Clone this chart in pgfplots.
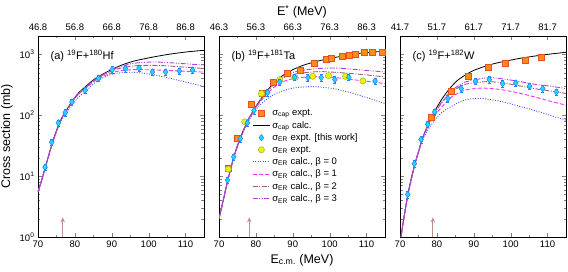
\documentclass[border=0pt]{standalone}
\usepackage{pgfplots}
\pgfplotsset{compat=1.18}
\usepackage{fontspec}
\setmainfont{Liberation Sans}
\usetikzlibrary{arrows.meta}
\definecolor{cOrange}{HTML}{FF8C1A}
\definecolor{cOrangeE}{HTML}{E8501A}
\definecolor{cCyan}{HTML}{22D8FF}
\definecolor{cCyanE}{HTML}{2080FF}
\definecolor{cYel}{HTML}{F0F000}
\definecolor{cYelE}{HTML}{90C020}
\definecolor{cB0}{HTML}{5050FF}
\definecolor{cB1}{HTML}{FF30FF}
\definecolor{cB2}{HTML}{A0607A}
\definecolor{cB3}{HTML}{B040E0}
\definecolor{cArrow}{HTML}{C09090}
\pgfplotsset{
  every axis/.append style={
    width=166pt, height=201pt, scale only axis,
    xmin=70, xmax=115, ymin=1, ymax=2000,
    xtick={70,80,90,100,110}, xticklabels={70,80,90,100,110},
    minor x tick num=1,
    ytick={1,10,100,1000},
    tick align=inside,
    major tick length=4pt, minor tick length=2.5pt,
    tick label style={font=\fontsize{9.5}{11}\selectfont},
    axis line style={line width=0.8pt},
    clip mode=individual,
  },
}
\tikzset{
  mycapexp/.style={mark=square*, mark size=3pt, mark options={fill=cOrange, draw=cOrangeE, line width=0.5pt, solid}},
  mydiam/.style={mark=diamond*, mark size=3.2pt, mark options={fill=cCyan, draw=cCyanE, line width=0.5pt, solid}},
  myerexp/.style={mark=*, mark size=3.1pt, mark options={fill=cYel, draw=cYelE, line width=0.5pt, solid}},
  mycapcalc/.style={black, line width=0.8pt},
  myb0/.style={cB0, line width=0.9pt, dash pattern=on 1pt off 1.5pt},
  myb1/.style={cB1, line width=0.9pt, dash pattern=on 4pt off 2pt},
  myb2/.style={cB2, line width=0.9pt, dash pattern=on 5pt off 1.5pt on 1pt off 1.5pt},
  myb3/.style={cB3, line width=0.9pt, dash pattern=on 5pt off 1.5pt on 1pt off 1.5pt on 1pt off 1.5pt},
  myarr/.style={cArrow, line width=1.1pt, -{Stealth[length=5pt,width=4.5pt]}},
}
\newcommand{\toplabels}[5]{%
  \node[anchor=south, font=\fontsize{9.5}{11}\selectfont, yshift=2pt] at (axis cs:70,2000) {#1};
  \node[anchor=south, font=\fontsize{9.5}{11}\selectfont, yshift=2pt] at (axis cs:80,2000) {#2};
  \node[anchor=south, font=\fontsize{9.5}{11}\selectfont, yshift=2pt] at (axis cs:90,2000) {#3};
  \node[anchor=south, font=\fontsize{9.5}{11}\selectfont, yshift=2pt] at (axis cs:100,2000) {#4};
  \node[anchor=south, font=\fontsize{9.5}{11}\selectfont, yshift=2pt] at (axis cs:110,2000) {#5};
}
\begin{document}
\begin{tikzpicture}
\path[use as bounding box] (0pt,0pt) rectangle (568pt,271pt);
% ---------------- panel (a)
\begin{semilogyaxis}[at={(38pt,34pt)}, anchor=south west,
  /pgf/number format/assume math mode=true,
  yticklabels={10\textsuperscript{0},10\textsuperscript{1},10\textsuperscript{2},10\textsuperscript{3}},
  ylabel={Cross section (mb)}, ylabel style={font=\fontsize{12.5}{14}\selectfont}]
\addplot[mycapcalc, no marks, smooth] coordinates {(70,5.5) (71,8.5) (72,14) (73,23) (74,37) (75,56) (76,80) (77.4,113) (79.2,168) (81,232) (83.3,310) (85.5,400) (87.9,485) (90,565) (92.4,655) (95,745) (97,800) (101.5,910) (106.1,1015) (110.6,1100) (115,1164)};
\addplot[myb0, no marks, smooth] coordinates {(70,5.5) (72,14) (74,36) (76,75) (77.4,103) (79.2,148) (81,198) (83.3,262) (85.5,345) (87.9,420) (90,470) (92.4,500) (95.2,508) (98.8,488) (102.4,450) (106.1,400) (110.6,345) (115,295)};
\addplot[myb1, no marks, smooth] coordinates {(70,5.5) (72,14) (74,36.5) (76,77) (77.4,110) (79.2,162) (81,222) (83.3,290) (85.5,370) (87.9,440) (90,500) (92.4,538) (95,556) (97,560) (101.5,555) (106.1,540) (110.6,525) (115,510)};
\addplot[myb2, no marks, smooth] coordinates {(70,5.5) (72,14) (74,36.5) (76,78) (77.4,111) (79.2,165) (81,225) (83.3,295) (85.5,385) (87.9,465) (90,535) (92.4,595) (95,635) (97,652) (101.5,660) (106.1,640) (110.6,610) (115,585)};
\addplot[myb3, no marks, smooth] coordinates {(70,5.5) (72,14) (74,36.5) (76,78) (77.4,112) (79.2,166) (81,226) (83.3,297) (85.5,390) (87.9,475) (90,555) (92.4,630) (95,695) (97,725) (101.5,748) (106.1,725) (110.6,695) (115,665)};
\addplot[only marks, mydiam, error bars/y dir=both, error bars/y fixed relative=0.12, error bars/error bar style={cCyanE, line width=0.6pt}, error bars/error mark options={rotate=90, mark size=1.5pt, cCyanE}] coordinates {(71.9,14) (73.7,36) (75.5,75) (77.4,111) (79.2,165) (82.8,257) (86.4,404) (90.1,561) (93.7,585) (97.4,597) (101.0,513) (104.6,513) (108.3,533) (111.9,553)};
\addplot[myarr, no marks] coordinates {(76.7,1) (76.7,2.1)};
\node[anchor=west, font=\fontsize{11}{13}\selectfont] at (rel axis cs:0.055,0.9) {(a) \textsuperscript{19}F+\textsuperscript{180}Hf};
\toplabels{46.8}{56.8}{66.8}{76.8}{86.8}
\end{semilogyaxis}
% ---------------- panel (b)
\begin{semilogyaxis}[at={(219pt,34pt)}, anchor=south west,
  /pgf/number format/assume math mode=true,
  yticklabels={},
  xlabel={E\textsubscript{c.m.} (MeV)}, xlabel style={font=\fontsize{12.5}{14}\selectfont},
  legend style={draw=none, fill=none, at={(rel axis cs:0.2,0.645)}, anchor=north west,
    font=\fontsize{9.5}{10}\selectfont, row sep=0pt, inner sep=0pt},
  legend cell align=left]
\addlegendimage{only marks, mycapexp}\addlegendentry{σ\textsubscript{cap} expt.}
\addlegendimage{no marks, mycapcalc}\addlegendentry{σ\textsubscript{cap} calc.}
\addlegendimage{only marks, mydiam}\addlegendentry{σ\textsubscript{ER} expt. [this work]}
\addlegendimage{only marks, myerexp}\addlegendentry{σ\textsubscript{ER} expt.}
\addlegendimage{no marks, myb0}\addlegendentry{σ\textsubscript{ER} calc., β = 0}
\addlegendimage{no marks, myb1}\addlegendentry{σ\textsubscript{ER} calc., β = 1}
\addlegendimage{no marks, myb2}\addlegendentry{σ\textsubscript{ER} calc., β = 2}
\addlegendimage{no marks, myb3}\addlegendentry{σ\textsubscript{ER} calc., β = 3}
\addplot[mycapcalc, no marks, smooth, forget plot] coordinates {(70,2) (71,3.6) (72,6.8) (73,12) (74,20.5) (75,32) (76,46) (77,64) (78,86) (79.5,125) (81,172) (83.4,270) (85.5,370) (87.9,475) (90,560) (92.5,650) (95,725) (97,780) (101.5,890) (106.1,1000) (110.6,1075) (115,1120)};
\addplot[myb0, no marks, smooth, forget plot] coordinates {(70,2) (72,6.7) (74,20) (76,44) (78,80) (79.5,112) (81,145) (83.4,192) (85.5,228) (87.9,258) (90,278) (92.5,290) (95,295) (97,292) (101.5,270) (106.1,230) (110.6,190) (115,155)};
\addplot[myb1, no marks, smooth, forget plot] coordinates {(70,2) (72,6.8) (74,20.3) (76,45) (78,83) (79.5,118) (81,162) (83.4,238) (85.5,305) (87.9,365) (90,398) (92.5,418) (97,430) (101.5,415) (106.1,385) (110.6,357) (115,331)};
\addplot[myb2, no marks, smooth, forget plot] coordinates {(70,2) (72,6.8) (74,20.4) (76,45.5) (78,85) (79.5,122) (81,168) (83.4,258) (85.5,345) (87.9,420) (90,465) (92.5,494) (97,520) (101.5,507) (106.1,482) (110.6,455) (115,425)};
\addplot[myb3, no marks, smooth, forget plot] coordinates {(70,2) (72,6.8) (74,20.4) (76,45.8) (78,85.5) (79.5,123) (81,170) (83.4,263) (85.5,355) (87.9,440) (90,500) (92.5,545) (97,585) (101.5,595) (106.1,570) (110.6,540) (115,513)};
\addplot[only marks, mycapexp, forget plot] coordinates {(72.5,13.4) (75.0,41.5) (78.8,151) (81.7,227) (84.7,352) (88.4,482) (92.0,547) (95.9,721) (99.1,818) (100.5,850) (103.4,940) (105.4,963) (107.0,1000) (109.3,1063) (111.6,1091) (114.3,1091)};
\addplot[only marks, myerexp, forget plot] coordinates {(72.5,13) (77.0,78) (81.5,227) (86.5,385) (90.6,415) (95.4,436) (99.7,447) (104.3,436) (109.0,365)};
\addplot[only marks, mydiam, forget plot, error bars/y dir=both, error bars/y fixed relative=0.12, error bars/error bar style={cCyanE, line width=0.6pt}, error bars/error mark options={rotate=90, mark size=1.5pt, cCyanE}] coordinates {(72.3,8.6) (74.0,20.7) (75.8,41.5) (77.7,75) (79.5,120) (83.2,236) (86.5,352) (90.5,420) (94.1,415) (97.7,415) (101.4,385) (105.2,420) (112.3,365)};
\addplot[myarr, no marks, forget plot] coordinates {(78.2,1) (78.2,2.1)};
\node[anchor=west, font=\fontsize{11}{13}\selectfont] at (rel axis cs:0.055,0.9) {(b) \textsuperscript{19}F+\textsuperscript{181}Ta};
\toplabels{46.3}{56.3}{66.3}{76.3}{86.3}
\node[anchor=south, font=\fontsize{12.5}{14}\selectfont] at (rel axis cs:0.5,1.07) {E\textsuperscript{*} (MeV)};
\end{semilogyaxis}
% ---------------- panel (c)
\begin{semilogyaxis}[at={(400pt,34pt)}, anchor=south west,
  /pgf/number format/assume math mode=true, yticklabels={}]
\addplot[mycapcalc, no marks, smooth] coordinates {(70.3,1.0) (70.7,1.5) (72,4.5) (73,9) (74,15.5) (75,25) (76,40) (77,58) (78,80) (79,105) (80,135) (81.5,190) (83.5,275) (85.5,370) (88,470) (90,545) (92.5,620) (95,690) (97.1,740) (101.6,840) (106.2,930) (110.7,1010) (115,1080)};
\addplot[myb0, no marks, smooth] coordinates {(70.3,1.0) (70.7,1.5) (72,4.4) (74,15) (76,37) (77,50) (78,63) (79,77) (80,92) (81.5,113) (83.5,135) (86,163) (88,180) (90.7,189) (93,186) (95.3,178) (97.5,167) (99.8,155) (102,142) (104.4,130) (106.6,119) (108.9,108) (111.5,96) (115,83)};
\addplot[myb1, no marks, smooth] coordinates {(70.3,1.0) (70.7,1.5) (72,4.5) (74,15.3) (76,39) (78,74) (79,92) (80,110) (81.5,140) (83.5,190) (86,235) (88,262) (91.6,278) (94,276) (97.1,265) (101.6,236) (106.2,202) (110.7,170) (115,146)};
\addplot[myb2, no marks, smooth] coordinates {(70.3,1.0) (70.7,1.5) (72,4.5) (74,15.4) (76,39.5) (78,77) (79,99) (80,122) (81.5,165) (83.5,225) (86,290) (88,325) (93,355) (97.1,345) (101.6,310) (106.2,275) (110.7,250) (115,227)};
\addplot[myb3, no marks, smooth] coordinates {(70.3,1.0) (70.7,1.5) (72,4.5) (74,15.4) (76,39.7) (78,78) (79,101) (80,125) (81.5,170) (83.5,238) (86,310) (88,355) (93.5,412) (97.1,400) (101.6,365) (106.2,325) (110.7,300) (115,274)};
\addplot[only marks, mycapexp] coordinates {(78.4,94) (83.9,250) (88.5,436) (93.9,620) (98.4,703) (103.9,798) (108.4,904)};
\addplot[only marks, mydiam, error bars/y dir=both, error bars/y fixed relative=0.12, error bars/error bar style={cCyanE, line width=0.6pt}, error bars/error mark options={rotate=90, mark size=1.5pt, cCyanE}] coordinates {(72.1,5.0) (73.9,16) (75.7,40) (77.5,71) (79.4,113) (83.0,188) (86.6,274) (90.5,361) (94.2,385) (97.8,331) (101.4,339) (105.1,299) (108.7,274) (112.4,241)};
\addplot[myarr, no marks] coordinates {(78.9,1) (78.9,2.1)};
\node[anchor=west, font=\fontsize{11}{13}\selectfont] at (rel axis cs:0.055,0.9) {(c) \textsuperscript{19}F+\textsuperscript{182}W};
\toplabels{41.7}{51.7}{61.7}{71.7}{81.7}
\end{semilogyaxis}
\end{tikzpicture}
\end{document}
